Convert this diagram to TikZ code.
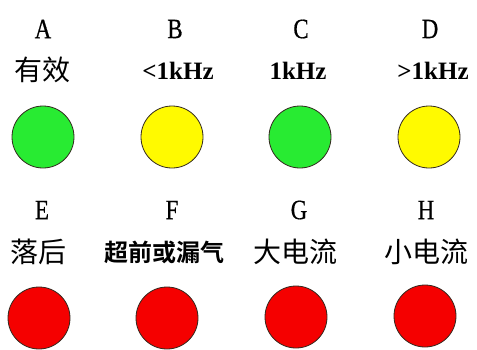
\documentclass[tikz,border=0pt]{standalone}
\usepackage{fontspec}
\setmainfont{Liberation Serif}
\newfontfamily\lettfont[FakeStretch=0.82,FakeBold=0.6]{Liberation Serif}
\newfontfamily\cjk{Noto Sans CJK SC}
\newfontfamily\cjkb{Noto Sans CJK SC Bold}
\definecolor{ledgreen}{RGB}{40,235,50}
\definecolor{ledyellow}{RGB}{255,250,0}
\definecolor{ledred}{RGB}{245,0,0}
\definecolor{ledline}{RGB}{50,40,30}
\tikzset{
  letter/.style={inner sep=0pt, font=\fontsize{28}{28}\lettfont},
  freq/.style={inner sep=0pt, font=\fontsize{25}{25}\selectfont\bfseries},
  cn/.style={inner sep=0pt, font=\fontsize{28}{28}\selectfont\cjk},
  cnb/.style={inner sep=0pt, font=\fontsize{24}{24}\selectfont\cjkb},
  led/.style={circle, draw=ledline, line width=0.8pt, minimum size=62pt, inner sep=0pt},
}
\begin{document}
\begin{tikzpicture}[x=1pt,y=-1pt]
\useasboundingbox (0,0) rectangle (477,349);
% row 1
\node[letter] (lA) at (43,29) {A};
\node[letter] (lB) at (175,29) {B};
\node[letter] (lC) at (301,29) {C};
\node[letter] (lD) at (430,29) {D};
\node[cn] (tA) at (42,70) {有效};
\node[freq] (tB) at (178,71) {<1kHz};
\node[freq] (tC) at (298,71) {1kHz};
\node[freq] (tD) at (433,71) {>1kHz};
\node[led, fill=ledgreen] (cA) at (43,137) {};
\node[led, fill=ledyellow] (cB) at (172,137) {};
\node[led, fill=ledgreen] (cC) at (300,137) {};
\node[led, fill=ledyellow] (cD) at (429,137) {};
% row 2
\node[letter] (lE) at (42,210) {E};
\node[letter] (lF) at (172,210) {F};
\node[letter] (lG) at (299,210) {G};
\node[letter] (lH) at (426,210) {H};
\node[cn] (tE) at (38,252) {落后};
\node[cnb] (tF) at (164,252) {超前或漏气};
\node[cn] (tG) at (295,252) {大电流};
\node[cn] (tH) at (426,252) {小电流};
\node[led, fill=ledred] (cE) at (39,318) {};
\node[led, fill=ledred] (cF) at (167,318) {};
\node[led, fill=ledred] (cG) at (296,317) {};
\node[led, fill=ledred] (cH) at (425,316) {};
\end{tikzpicture}
\end{document}
